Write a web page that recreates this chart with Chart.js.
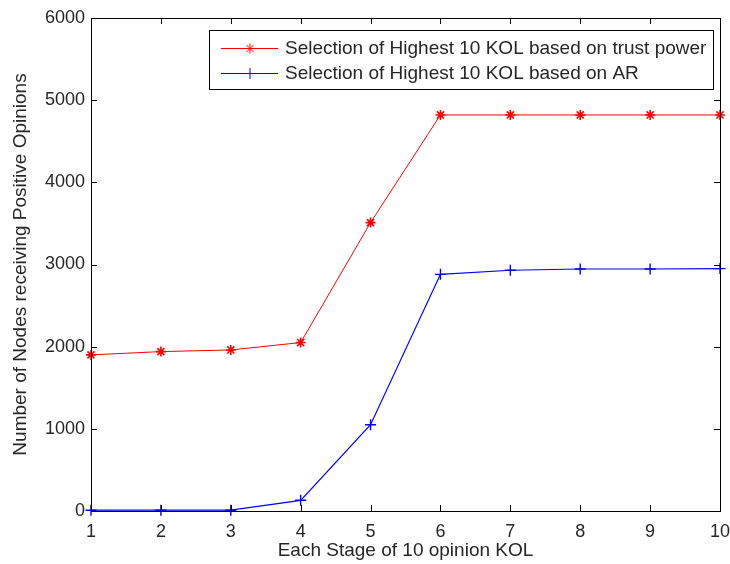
<!DOCTYPE html>
<html>
<head>
<meta charset="utf-8">
<style>
  html, body { margin: 0; padding: 0; background: #fff; }
  #wrap { width: 730px; height: 564px; }
</style>
<script src="https://cdn.jsdelivr.net/npm/chart.js@4/dist/chart.umd.min.js"></script>
</head>
<body>
<div id="wrap"><canvas id="c" width="730" height="564"></canvas></div>
<script>
// Stage index (number of opinion KOL selected)
const stages = [1, 2, 3, 4, 5, 6, 7, 8, 9, 10];
// Nodes receiving positive opinions, trust-power based selection
const trustPower = [1900, 1940, 1960, 2050, 3510, 4820, 4820, 4820, 4820, 4820];
// Nodes receiving positive opinions, AR based selection
const arRank = [10, 10, 10, 130, 1050, 2880, 2930, 2945, 2945, 2950];
const yTicks = [0, 1000, 2000, 3000, 4000, 5000, 6000];
const seriesNames = [
  'Selection of Highest 10 KOL based on trust power',
  'Selection of Highest 10 KOL based on AR'
];

const FONT = 'Liberation Sans, Arial, sans-serif';
const TEXT = '#262626';

// Box frame, inward tick marks on all sides, and an in-plot legend
const matlabAxes = {
  id: 'matlabAxes',
  afterDatasetsDraw(chart) {
    const ctx = chart.ctx;
    const a = chart.chartArea;
    const xs = chart.scales.x, ys = chart.scales.y;
    const tl = 6;
    ctx.save();
    ctx.strokeStyle = '#000';
    ctx.lineWidth = 1;
    ctx.beginPath();
    stages.forEach(v => {
      const px = Math.round(xs.getPixelForValue(v)) + 0.5;
      ctx.moveTo(px, a.bottom); ctx.lineTo(px, a.bottom - tl);
      ctx.moveTo(px, a.top); ctx.lineTo(px, a.top + tl);
    });
    yTicks.forEach(v => {
      const py = Math.round(ys.getPixelForValue(v)) + 0.5;
      ctx.moveTo(a.left, py); ctx.lineTo(a.left + tl, py);
      ctx.moveTo(a.right, py); ctx.lineTo(a.right - tl, py);
    });
    ctx.stroke();
    ctx.strokeRect(Math.round(a.left) + 0.5, Math.round(a.top) + 0.5,
                   Math.round(a.right - a.left), Math.round(a.bottom - a.top));

    // legend
    const lx = 209.5, ly = 30.5, lw = 504, lh = 59;
    ctx.fillStyle = '#fff';
    ctx.fillRect(lx, ly, lw, lh);
    ctx.strokeStyle = '#000';
    ctx.strokeRect(lx, ly, lw, lh);
    ctx.font = '19px ' + FONT;
    ctx.textBaseline = 'middle';
    ctx.textAlign = 'left';
    chart.data.datasets.forEach((ds, i) => {
      const yy = 48 + i * 25;
      ctx.strokeStyle = ds.borderColor;
      ctx.lineWidth = 1;
      ctx.beginPath();
      ctx.moveTo(221, yy + 0.5); ctx.lineTo(278, yy + 0.5);
      ctx.stroke();
      Chart.helpers.drawPoint(ctx, {
        pointStyle: ds.pointStyle, radius: ds.pointRadius, rotation: 0,
        borderWidth: ds.pointBorderWidth
      }, 250, yy + 0.5);
      ctx.fillStyle = TEXT;
      ctx.fillText(ds.label, 285, yy + 1);
    });
    ctx.restore();
  }
};

const ctx = document.getElementById('c').getContext('2d');
new Chart(ctx, {
  type: 'line',
  data: {
    datasets: [
      {
        label: seriesNames[0],
        data: stages.map((s, i) => ({ x: s, y: trustPower[i] })),
        borderColor: '#ff0000',
        backgroundColor: '#ff0000',
        borderWidth: 1,
        pointStyle: 'star',
        pointRadius: 5,
        pointBorderWidth: 1.6,
        pointBorderColor: '#ff0000',
        tension: 0,
        clip: false
      },
      {
        label: seriesNames[1],
        data: stages.map((s, i) => ({ x: s, y: arRank[i] })),
        borderColor: '#0000ff',
        backgroundColor: '#0000ff',
        borderWidth: 1.2,
        pointStyle: 'cross',
        pointRadius: 5.5,
        pointBorderWidth: 1.4,
        pointBorderColor: '#0000ff',
        tension: 0,
        clip: false
      }
    ]
  },
  options: {
    responsive: false,
    animation: false,
    devicePixelRatio: 1,
    layout: { padding: { top: 18, right: 10, left: 0, bottom: 0 } },
    plugins: {
      legend: { display: false },
      tooltip: { enabled: false }
    },
    scales: {
      x: {
        type: 'linear',
        min: 1, max: 10,
        afterFit(s) { s.height = 53; s.paddingLeft = 0; s.paddingRight = 0; },
        afterBuildTicks(s) { s.ticks = stages.map(v => ({ value: v })); },
        grid: { display: false, drawTicks: false },
        border: { display: false },
        ticks: {
          color: TEXT, font: { family: FONT, size: 18 }, padding: 10, maxRotation: 0,
          callback: v => String(v)
        },
        title: {
          display: true, text: 'Each Stage of 10 opinion KOL',
          color: TEXT, font: { family: FONT, size: 19 }, padding: { top: 0, bottom: 2 }
        }
      },
      y: {
        type: 'linear',
        min: 0, max: 6000,
        afterFit(s) { s.width = 91; s.paddingTop = 0; s.paddingBottom = 0; },
        afterBuildTicks(s) { s.ticks = yTicks.map(v => ({ value: v })); },
        grid: { display: false, drawTicks: false },
        border: { display: false },
        ticks: {
          color: TEXT, font: { family: FONT, size: 18 }, padding: 6,
          callback: v => String(v)
        },
        title: {
          display: true, text: 'Number of Nodes receiving Positive Opinions',
          color: TEXT, font: { family: FONT, size: 19 }, padding: { top: 9, bottom: 0 }
        }
      }
    }
  },
  plugins: [matlabAxes]
});
</script>
</body>
</html>
